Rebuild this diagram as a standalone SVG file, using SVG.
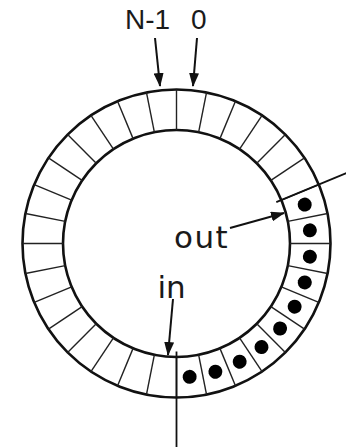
<svg xmlns="http://www.w3.org/2000/svg" width="346" height="447" viewBox="0 0 346 447">
<style>
.ring{fill:none;stroke:#111;stroke-width:2.6}
.seg{stroke:#222;stroke-width:1.4}
.dot{fill:#000}
.ptr{stroke:#111;stroke-width:1.8;fill:none}
.arr{stroke:#111;stroke-width:2;fill:none}
.lblA{font-family:"Liberation Sans",Arial,sans-serif;font-size:28px;fill:#1a1a1a}
.lblB{font-family:"DejaVu Sans",Verdana,sans-serif;font-size:31px;fill:#1a1a1a}
</style>
<defs>
<marker id="ah" markerUnits="userSpaceOnUse" markerWidth="14" markerHeight="10" refX="13" refY="5" orient="auto">
<path d="M0,0 L14,5 L0,10 z" fill="#111"/>
</marker>
</defs>
<rect width="346" height="447" fill="#fff"/>
<g id="buffer" transform="translate(176.5,243.5)">
<circle class="ring" r="154"/>
<circle class="ring" r="113.5"/>
<g id="slots">
<line class="seg" y1="-113.5" y2="-154" transform="rotate(0)"/>
<line class="seg" y1="-113.5" y2="-154" transform="rotate(11.25)"/>
<line class="seg" y1="-113.5" y2="-154" transform="rotate(22.5)"/>
<line class="seg" y1="-113.5" y2="-154" transform="rotate(33.75)"/>
<line class="seg" y1="-113.5" y2="-154" transform="rotate(45)"/>
<line class="seg" y1="-113.5" y2="-154" transform="rotate(56.25)"/>
<line class="seg" y1="-113.5" y2="-154" transform="rotate(67.5)"/>
<line class="seg" y1="-113.5" y2="-154" transform="rotate(78.75)"/>
<line class="seg" y1="-113.5" y2="-154" transform="rotate(90)"/>
<line class="seg" y1="-113.5" y2="-154" transform="rotate(101.25)"/>
<line class="seg" y1="-113.5" y2="-154" transform="rotate(112.5)"/>
<line class="seg" y1="-113.5" y2="-154" transform="rotate(123.75)"/>
<line class="seg" y1="-113.5" y2="-154" transform="rotate(135)"/>
<line class="seg" y1="-113.5" y2="-154" transform="rotate(146.25)"/>
<line class="seg" y1="-113.5" y2="-154" transform="rotate(157.5)"/>
<line class="seg" y1="-113.5" y2="-154" transform="rotate(168.75)"/>
<line class="seg" y1="-113.5" y2="-154" transform="rotate(180)"/>
<line class="seg" y1="-113.5" y2="-154" transform="rotate(191.25)"/>
<line class="seg" y1="-113.5" y2="-154" transform="rotate(202.5)"/>
<line class="seg" y1="-113.5" y2="-154" transform="rotate(213.75)"/>
<line class="seg" y1="-113.5" y2="-154" transform="rotate(225)"/>
<line class="seg" y1="-113.5" y2="-154" transform="rotate(236.25)"/>
<line class="seg" y1="-113.5" y2="-154" transform="rotate(247.5)"/>
<line class="seg" y1="-113.5" y2="-154" transform="rotate(258.75)"/>
<line class="seg" y1="-113.5" y2="-154" transform="rotate(270)"/>
<line class="seg" y1="-113.5" y2="-154" transform="rotate(281.25)"/>
<line class="seg" y1="-113.5" y2="-154" transform="rotate(292.5)"/>
<line class="seg" y1="-113.5" y2="-154" transform="rotate(303.75)"/>
<line class="seg" y1="-113.5" y2="-154" transform="rotate(315)"/>
<line class="seg" y1="-113.5" y2="-154" transform="rotate(326.25)"/>
<line class="seg" y1="-113.5" y2="-154" transform="rotate(337.5)"/>
<line class="seg" y1="-113.5" y2="-154" transform="rotate(348.75)"/>
</g>
<g id="items">
<circle class="dot" cy="-134" r="7" transform="rotate(73.125)"/>
<circle class="dot" cy="-134" r="7" transform="rotate(84.375)"/>
<circle class="dot" cy="-134" r="7" transform="rotate(95.625)"/>
<circle class="dot" cy="-134" r="7" transform="rotate(106.875)"/>
<circle class="dot" cy="-134" r="7" transform="rotate(118.125)"/>
<circle class="dot" cy="-134" r="7" transform="rotate(129.375)"/>
<circle class="dot" cy="-134" r="7" transform="rotate(140.625)"/>
<circle class="dot" cy="-134" r="7" transform="rotate(151.875)"/>
<circle class="dot" cy="-134" r="7" transform="rotate(163.125)"/>
<circle class="dot" cy="-134" r="7" transform="rotate(174.375)"/>
</g>
<g id="pointers">
<line class="ptr" y1="-108" y2="-200" transform="rotate(67.5)"/>
<line class="ptr" y1="-108" y2="-210" transform="rotate(180)"/>
</g>
</g>
<g id="labels">
<text id="lbl-n1" class="lblA" x="125" y="29">N-1</text>
<text id="lbl-0" class="lblA" x="191" y="29">0</text>
<text id="lbl-out" class="lblB" x="174" y="248" letter-spacing="1.5">out</text>
<text id="lbl-in" class="lblB" x="157.5" y="298">in</text>
</g>
<g id="connectors">
<line class="arr" x1="155" y1="38" x2="160" y2="86" marker-end="url(#ah)"/>
<line class="arr" x1="197" y1="38" x2="193" y2="86" marker-end="url(#ah)"/>
<line class="arr" x1="230" y1="228" x2="284" y2="213" marker-end="url(#ah)"/>
<line class="arr" x1="173" y1="299" x2="168" y2="355" marker-end="url(#ah)"/>
</g>
</svg>
